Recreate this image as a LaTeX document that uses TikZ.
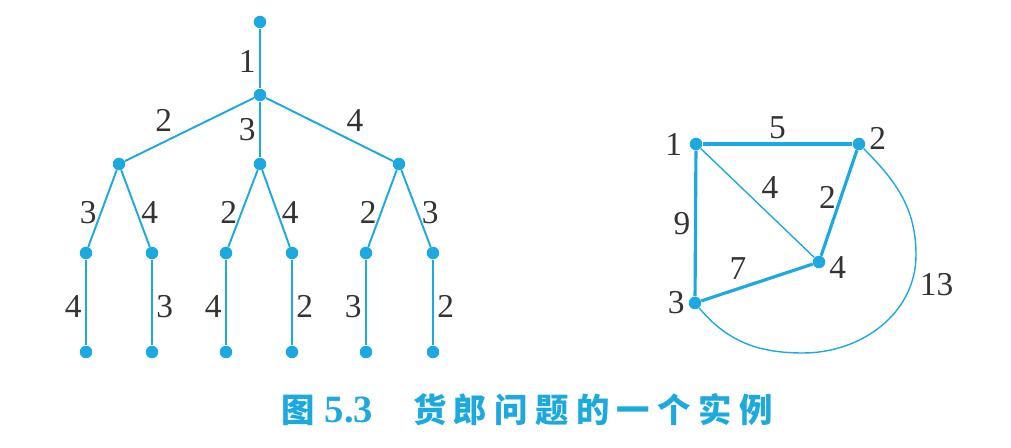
\documentclass[tikz,border=0pt]{standalone}
\usepackage{fontspec}
\setmainfont{Liberation Serif}
\newfontfamily\cjkfont[LetterSpace=22]{Noto Sans CJK SC}
\newfontfamily\capnum{Liberation Serif}
\usepackage{xcolor}
\usepackage{tikz}
\usetikzlibrary{positioning}
\definecolor{tspblue}{RGB}{28,168,224}

\begin{document}
\begin{tikzpicture}[
  x=0.02cm, y=-0.02cm,
  dot/.style={circle, fill=tspblue, inner sep=0pt, minimum size=0.25cm},
  lab/.style={font=\fontsize{19}{22}\selectfont, text=black!80, inner sep=2pt},
  edge/.style={draw=tspblue, line width=1.1pt},
  thin/.style={draw=tspblue, line width=0.8pt},
  tour/.style={draw=tspblue, line width=1.8pt}
]
  \useasboundingbox (0,0) rectangle (1011,448);

  % search tree
  \node[dot] (r) at (260,22) {};
  \node[dot] (a) at (260,95) {};
  \node[dot] (b1) at (119,164) {};
  \node[dot] (b2) at (260,164) {};
  \node[dot] (b3) at (399,164) {};
  \node[dot] (c1) at (86,253) {};
  \node[dot] (c2) at (152,253) {};
  \node[dot] (c3) at (226,253) {};
  \node[dot] (c4) at (292,253) {};
  \node[dot] (c5) at (366,253) {};
  \node[dot] (c6) at (433,253) {};
  \node[dot] (d1) at (86,352) {};
  \node[dot] (d2) at (152,352) {};
  \node[dot] (d3) at (226,352) {};
  \node[dot] (d4) at (292,352) {};
  \node[dot] (d5) at (366,352) {};
  \node[dot] (d6) at (433,352) {};

  \draw[edge] (r) -- node[lab, left, pos=0.55] {1} (a);
  \draw[edge] (a) -- node[lab, above left, pos=0.6] {2} (b1);
  \draw[edge] (a) -- node[lab, left] {3} (b2);
  \draw[edge] (a) -- node[lab, above right, pos=0.6] {4} (b3);
  \draw[edge] (b1) -- node[lab, left, pos=0.55] {3} (c1);
  \draw[edge] (b1) -- node[lab, right, pos=0.55] {4} (c2);
  \draw[edge] (b2) -- node[lab, left, pos=0.55] {2} (c3);
  \draw[edge] (b2) -- node[lab, right, pos=0.55] {4} (c4);
  \draw[edge] (b3) -- node[lab, left, pos=0.55] {2} (c5);
  \draw[edge] (b3) -- node[lab, right, pos=0.55] {3} (c6);
  \draw[edge] (c1) -- node[lab, left, pos=0.55] {4} (d1);
  \draw[edge] (c2) -- node[lab, right, pos=0.55] {3} (d2);
  \draw[edge] (c3) -- node[lab, left, pos=0.55] {4} (d3);
  \draw[edge] (c4) -- node[lab, right, pos=0.55] {2} (d4);
  \draw[edge] (c5) -- node[lab, left, pos=0.55] {3} (d5);
  \draw[edge] (c6) -- node[lab, right, pos=0.55] {2} (d6);

  % city graph
  \node[dot, label={[lab, xshift=-2pt]left:1}] (v1) at (696,144) {};
  \node[dot, label={[lab, yshift=3pt]right:2}] (v2) at (859,144) {};
  \node[dot, label={[lab]left:3}] (v3) at (695,303) {};
  \node[dot, label={[lab, yshift=-3pt]right:4}] (v4) at (819,262) {};

  \draw[tour] (v1) -- node[lab, above] {5} (v2);
  \draw[tour] (v1) -- node[lab, left] {9} (v3);
  \draw[tour] (v3) -- node[lab, above left, pos=0.45] {7} (v4);
  \draw[tour] (v4) -- node[lab, left, pos=0.55] {2} (v2);
  \draw[thin] (v1) -- node[lab, above right, pos=0.5] {4} (v4);
  \coordinate (east) at (916,255);
  \coordinate (south) at (803,353);
  \draw[thin] (v2) to[out=-45, in=90] (east)
    to[out=-90, in=0] (south) to[out=180, in=-50] (v3);
  \node[lab, right] (w13) at (east) [yshift=-0.6cm] {13};

  % caption
  \node[font=\cjkfont\bfseries\fontsize{19}{22}\selectfont, text=tspblue] (cap) at (527,410) {图\hspace{0.3em}{\capnum\bfseries\fontsize{22}{24}\selectfont 5.3}\hspace{1.2em}货郎问题的一个实例};
\end{tikzpicture}
\end{document}
